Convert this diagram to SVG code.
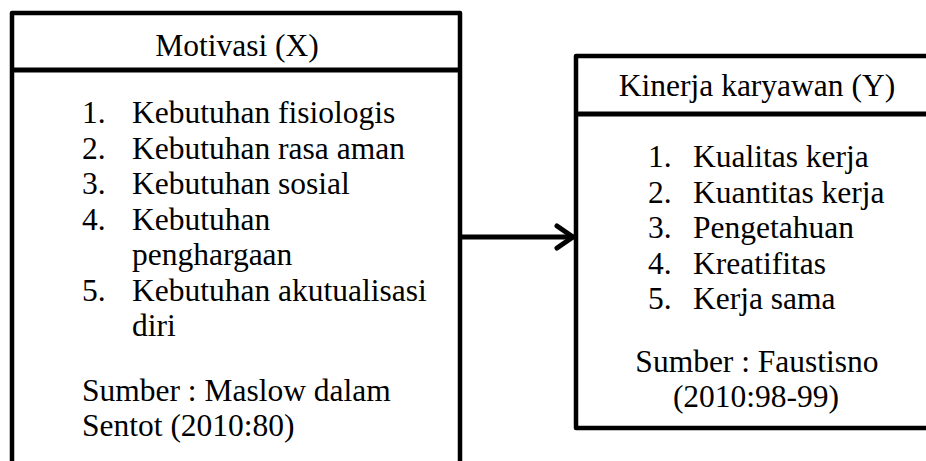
<svg xmlns="http://www.w3.org/2000/svg" width="926" height="461" viewBox="0 0 926 461">
<defs>
<style>
.box{fill:#fff;stroke:#000;stroke-width:4.5;stroke-linejoin:round}
.div{stroke:#000;stroke-width:5}
text{font-family:"Liberation Serif","Times New Roman",serif;font-size:31.5px;fill:#000}
.c{text-anchor:middle}
.conn{stroke:#000;stroke-width:5;fill:none;stroke-linecap:round;stroke-linejoin:round}
</style>
</defs>
<rect width="926" height="461" fill="#fff"/>
<g id="motivasi">
<rect class="box" x="12" y="13" width="448" height="470"/>
<line class="div" x1="12" y1="70" x2="460" y2="70"/>
<text class="c" x="237" y="56">Motivasi (X)</text>
<text x="82" y="123">1.</text><text x="132" y="123">Kebutuhan fisiologis</text>
<text x="82" y="158.5">2.</text><text x="132" y="158.5">Kebutuhan rasa aman</text>
<text x="82" y="194">3.</text><text x="132" y="194">Kebutuhan sosial</text>
<text x="82" y="229.5">4.</text><text x="132" y="229.5">Kebutuhan</text>
<text x="132" y="265">penghargaan</text>
<text x="82" y="300.5">5.</text><text x="132" y="300.5">Kebutuhan akutualisasi</text>
<text x="132" y="336">diri</text>
<text x="82" y="401">Sumber : Maslow dalam</text>
<text x="82" y="436">Sentot (2010:80)</text>
</g>
<g id="kinerja">
<rect class="box" x="576" y="56" width="380" height="372"/>
<line class="div" x1="576" y1="114" x2="930" y2="114"/>
<text class="c" x="757" y="96">Kinerja karyawan (Y)</text>
<text x="648" y="167">1.</text><text x="693" y="167">Kualitas kerja</text>
<text x="648" y="202.5">2.</text><text x="693" y="202.5">Kuantitas kerja</text>
<text x="648" y="238">3.</text><text x="693" y="238">Pengetahuan</text>
<text x="648" y="273.5">4.</text><text x="693" y="273.5">Kreatifitas</text>
<text x="648" y="309">5.</text><text x="693" y="309">Kerja sama</text>
<text class="c" x="757" y="372">Sumber : Faustisno</text>
<text class="c" x="756" y="407">(2010:98-99)</text>
</g>
<g id="connectors">
<line class="conn" x1="462" y1="237" x2="573" y2="237"/>
<polyline class="conn" points="557,226 573,237 557,248"/>
</g>
</svg>
